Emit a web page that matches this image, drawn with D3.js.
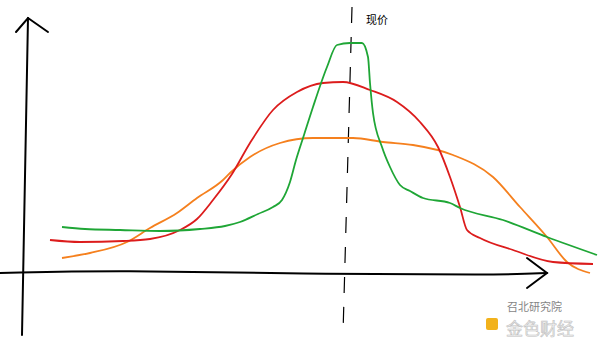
<!DOCTYPE html>
<html><head><meta charset="utf-8">
<script src="https://cdn.jsdelivr.net/npm/d3@7/dist/d3.min.js"></script>
<style>body{margin:0;background:#fff}svg{display:block}</style>
</head><body>
<svg id="c" width="600" height="340"></svg>
<script>
// price position (x) and relative height above baseline (y)
const greenX = [62,85,120,160,200,225,240,258,273,282,290,296,304,313,327,337,350,362,368,370,373,382,390,400,410,423,450,460,503,547,597];
const greenY = [45,43,42,41,43,46,50,58,65,72,90,112,137,165,205,227,229,229,215,189,159,125,105,87,81,74,69,64,52,35,17];
const redX = [50,80,123,150,180,197,213,232,250,273,297,323,343,370,397,420,438,450,460,467,480,513,553,593];
const redY = [32,30,31,33,42,53,72,98,129,162,180,189,190,182,170,150,125,95,65,42,34,22,10,8];
const orangeX = [62,90,127,150,177,197,223,230,250,280,313,353,383,413,453,493,520,547,567,590];
const orangeY = [14,19,30,44,59,74,92,99,115,129,134,134,130,127,117,95,65,35,10,-1];
const priceX = [352, 343];            // current-price line (top, bottom)
const priceLabel = "现价";
const seriesColors = ["#1fa636", "#dc1c1c", "#f5801e"];

const svg = d3.select("#c");
const x = d3.scaleLinear().domain([0, 600]).range([0, 600]);
const y = d3.scaleLinear().domain([0, 272]).range([272, 0]);

// axes (hand-drawn style)
const axisG = svg.append("g").attr("stroke", "#000").attr("stroke-width", 2).attr("fill", "none")
  .attr("stroke-linecap", "round");
axisG.append("path").attr("d", d3.line()([[x(28), y(254)], [x(22), y(-63)]]));
axisG.append("path").attr("d", d3.line()([[x(16), y(240)], [x(28), y(254)], [x(48), y(240)]]));
axisG.append("path").attr("d", d3.line().curve(d3.curveBasis)([[x(0), y(-1)], [x(120), y(2)], [x(300), y(-2)], [x(500), y(-3)], [x(547), y(-1)]]));
axisG.append("path").attr("d", d3.line()([[x(527), y(14)], [x(547), y(-1)], [x(527), y(-16)]]));

// dashed current price line
svg.append("line")
  .attr("x1", x(priceX[0])).attr("y1", y(265))
  .attr("x2", x(priceX[1])).attr("y2", y(-62))
  .attr("stroke", "#000").attr("stroke-width", 1.2)
  .attr("stroke-dasharray", "16,14");
svg.append("text").attr("x", x(366)).attr("y", y(248))
  .attr("font-family", "Noto Sans CJK SC").attr("font-size", 11).attr("fill", "#000")
  .text(priceLabel);

const line = d3.line().curve(d3.curveMonotoneX).x(d => x(d[0])).y(d => y(d[1]));
const series = [
  {xs: orangeX, ys: orangeY, c: seriesColors[2]},
  {xs: redX, ys: redY, c: seriesColors[1]},
  {xs: greenX, ys: greenY, c: seriesColors[0]}
];
series.forEach(s => {
  svg.append("path").datum(s.xs.map((v, i) => [v, s.ys[i]]))
    .attr("d", line).attr("fill", "none").attr("stroke", s.c)
    .attr("stroke-width", 1.8).attr("stroke-linejoin", "round");
});

// watermark
const wm = svg.append("g");
wm.append("rect").attr("x", 486).attr("y", 318).attr("width", 12).attr("height", 12)
  .attr("fill", "#f2b21c").attr("rx", 2);
wm.append("text").attr("x", 507).attr("y", 311).attr("font-family", "Noto Sans CJK SC")
  .attr("font-size", 11).attr("fill", "#666").attr("opacity", 0.8).text("召北研究院");
wm.append("text").attr("x", 506).attr("y", 335).attr("font-family", "Noto Sans CJK SC")
  .attr("font-size", 17).attr("fill", "#eee").attr("stroke", "#bbb").attr("stroke-width", 0.6)
  .attr("opacity", 0.9).text("金色财经");
</script>
</body></html>
